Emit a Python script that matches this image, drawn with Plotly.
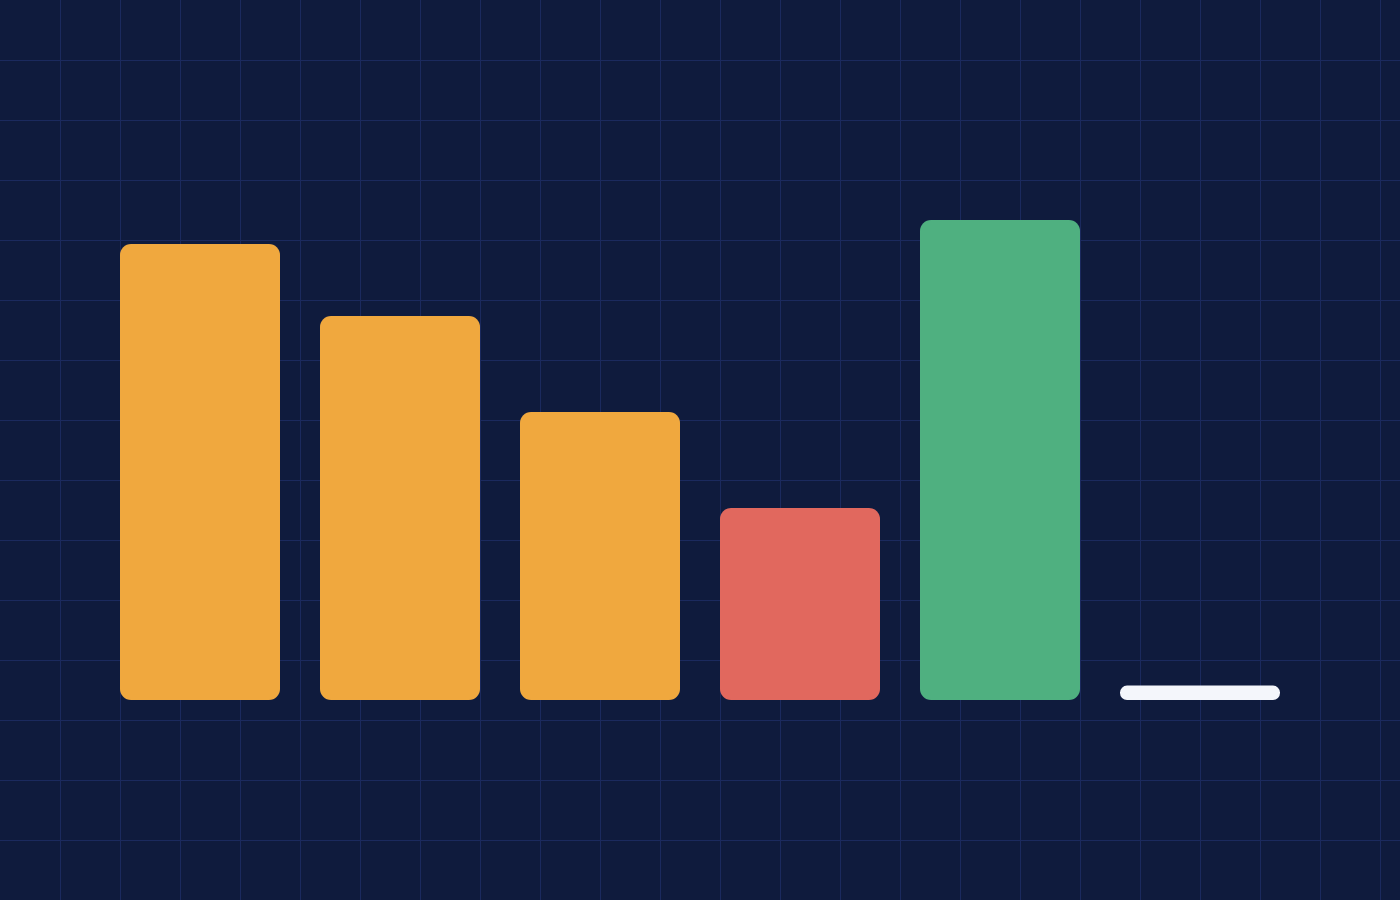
import plotly.graph_objects as go

# bar data (left to right)
categories = ["A", "B", "C", "D", "E", "F"]
values = [95, 80, 60, 40, 100, 3]
colors = ["#F0A83E", "#F0A83E", "#F0A83E", "#E1685E", "#4FB080", "#F4F6FB"]
radii = [11, 11, 11, 11, 11, 7]

BG = "#0F1B3D"
GRID = "#1B2A5E"

fig = go.Figure()

# one trace per bar so each can have its own corner radius
for cat, val, col, rad in zip(categories, values, colors, radii):
    fig.add_trace(go.Bar(
        x=[cat], y=[val], base=[0],
        marker=dict(color=col, line=dict(width=0), cornerradius=rad),
        width=0.8, showlegend=False, hoverinfo="skip"
    ))

# invisible trace to anchor the background grid axes
fig.add_trace(go.Scatter(x=[0], y=[0], xaxis="x2", yaxis="y2",
                         mode="markers", marker=dict(opacity=0),
                         showlegend=False, hoverinfo="skip"))

fig.update_layout(
    width=1400, height=900,
    paper_bgcolor=BG, plot_bgcolor=BG,
    margin=dict(l=0, r=0, t=0, b=0),
    barmode="overlay",
    showlegend=False,
    xaxis=dict(range=[-1, 6], showgrid=False, showticklabels=False,
               zeroline=False, showline=False, ticks=""),
    yaxis=dict(range=[-200 / 4.8, 700 / 4.8], showgrid=False,
               showticklabels=False, zeroline=False, showline=False),
    xaxis2=dict(range=[0, 1400], overlaying="x", showgrid=True, gridcolor=GRID,
                gridwidth=1, tick0=0, dtick=60, showticklabels=False,
                zeroline=False, showline=False, layer="below traces"),
    yaxis2=dict(range=[900, 0], overlaying="y", showgrid=True, gridcolor=GRID,
                gridwidth=1, tick0=0, dtick=60, showticklabels=False,
                zeroline=False, showline=False, layer="below traces"),
)

# drop the default page margin so the chart fills the window
fig.write_html("out.html", config={"displayModeBar": False},
               post_script="document.body.style.margin='0';"
                           "document.body.style.background='" + BG + "';")
